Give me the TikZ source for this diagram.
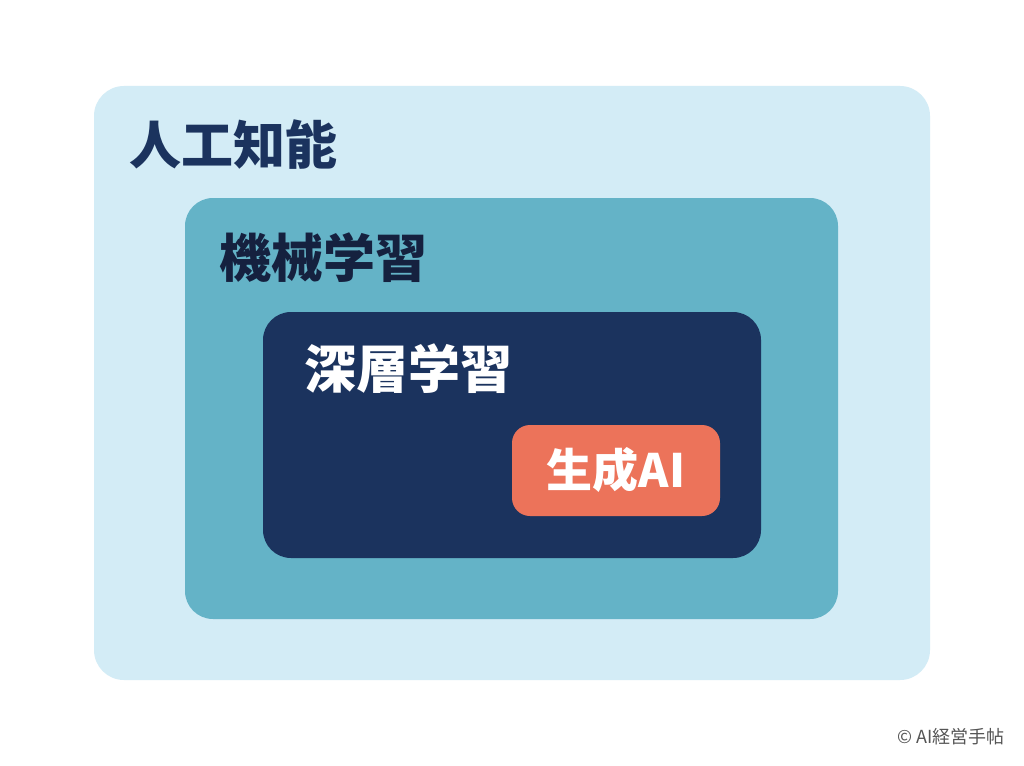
\documentclass[tikz,border=0pt]{standalone}
\usepackage{fontspec}
\newfontfamily\cjk{Noto Sans CJK JP}
\definecolor{aibg}{HTML}{D3ECF6}
\definecolor{mlbg}{HTML}{64B3C7}
\definecolor{dlbg}{HTML}{1B335E}
\definecolor{genbg}{HTML}{EC735A}
\definecolor{navy}{HTML}{1B335E}
\definecolor{darknavy}{HTML}{15213F}
\definecolor{credit}{HTML}{555555}
\begin{document}
\begin{tikzpicture}[x=1pt,y=-1pt,
  layer/.style={inner sep=0pt},
  label/.style={inner sep=0pt,font=\cjk\bfseries\fontsize{52}{56}\selectfont}]
\useasboundingbox[fill=white] (0,0) rectangle (1024,765);
\fill[aibg, rounded corners=30pt] (94,86) rectangle (930,680);
\fill[mlbg, rounded corners=28pt] (185,198) rectangle (838,619);
\fill[dlbg, rounded corners=28pt] (263,312) rectangle (761,558);
\fill[genbg, rounded corners=18pt] (512,425) rectangle (720,516);
\node[label, text=navy] (ai) at (233,145) {人工知能};
\node[label, text=darknavy] (ml) at (323,258) {機械学習};
\node[label, text=white] (dl) at (408,369) {深層学習};
\node[inner sep=0pt, text=white, font=\cjk\bfseries\fontsize{46}{50}\selectfont] (gen) at (616,470) {生成AI};
\node[inner sep=0pt, text=credit, font=\cjk\fontsize{18}{20}\selectfont] (cr) at (951,737) {© AI経営手帖};
\end{tikzpicture}
\end{document}
